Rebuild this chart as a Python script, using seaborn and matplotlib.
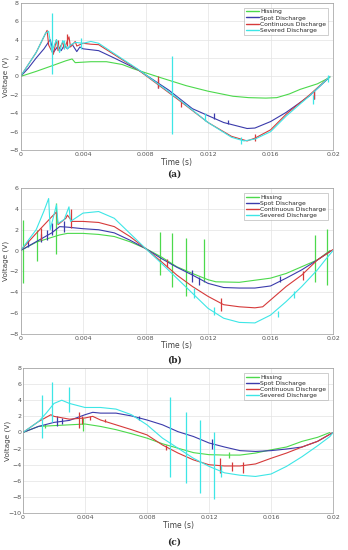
import numpy as np
import pandas as pd
import matplotlib
matplotlib.use("Agg")
import matplotlib.pyplot as plt
import seaborn as sns

sns.set_style("whitegrid")
plt.rcParams['font.family'] = ['DejaVu Sans']

LABELS = ['Hissing', 'Spot Discharge', 'Continuous Discharge', 'Severed Discharge']
COLORS = ['#4cd94c', '#3b3bab', '#d63a3a', '#3de6e6']

# ---------------- panel (a) ----------------
A_HISS_T = [0, 0.001, 0.002, 0.0029, 0.0033, 0.0035, 0.0045, 0.0055, 0.0065, 0.0072, 0.008, 0.009,
            0.0106, 0.012, 0.0136, 0.0146, 0.0157, 0.0164, 0.0172, 0.0179, 0.019, 0.0198]
A_HISS_V = [0, 0.55, 1.15, 1.7, 1.9, 1.5, 1.6, 1.6, 1.3, 0.85, 0.4, -0.15,
            -1.0, -1.6, -2.15, -2.3, -2.35, -2.3, -1.9, -1.4, -0.8, -0.1]
A_SPOT_T = [0, 0.0005, 0.001, 0.0015, 0.0019, 0.0021, 0.0024, 0.0026, 0.0028, 0.003, 0.0033, 0.0036,
            0.0038, 0.004, 0.005, 0.006, 0.0075, 0.0095, 0.011, 0.013, 0.0145, 0.015, 0.016, 0.017,
            0.0185, 0.0197]
A_SPOT_V = [0, 0.9, 2.0, 3.0, 4.0, 2.6, 3.3, 2.8, 3.4, 3.0, 3.5, 2.7,
            3.2, 3.0, 2.8, 2.0, 0.75, -1.5, -3.5, -5.0, -5.65, -5.6, -4.9, -3.9,
            -2.1, -0.2]
A_CONT_T = [0, 0.0005, 0.001, 0.0017, 0.0018, 0.0021, 0.0023, 0.0024, 0.0027, 0.0028, 0.0031, 0.0032,
            0.0035, 0.0036, 0.004, 0.0045, 0.005, 0.0075, 0.01, 0.012, 0.0135, 0.0145, 0.015, 0.016,
            0.017, 0.0185, 0.0198]
A_CONT_V = [0, 1.3, 2.6, 5.0, 3.4, 2.4, 4.0, 2.8, 3.7, 3.0, 4.3, 3.2,
            3.8, 3.3, 3.6, 3.5, 3.45, 0.75, -2.4, -5.0, -6.5, -7.0, -6.7, -5.8,
            -4.1, -2.0, 0]
A_SEV_T = [0, 0.0005, 0.001, 0.0016, 0.0018, 0.002, 0.0023, 0.0025, 0.0027, 0.003, 0.0032, 0.0035,
           0.004, 0.0045, 0.005, 0.0075, 0.01, 0.012, 0.0135, 0.0143, 0.015, 0.016, 0.017, 0.0185, 0.0198]
A_SEV_V = [0, 1.3, 2.6, 4.7, 4.9, 2.7, 4.0, 2.6, 3.9, 3.0, 3.4, 3.7,
           3.6, 3.8, 3.6, 0.8, -2.3, -5.0, -6.6, -7.0, -6.8, -6.0, -4.3, -2.1, 0]
# spikes: time, low, high
A_SPK_HISS = ([], [], [])
A_SPK_SPOT = ([0.0088, 0.0124, 0.0133, 0.0188], [-1.3, -4.6, -5.2, -2.4], [-0.3, -4.0, -4.7, -1.6])
A_SPK_CONT = ([0.0024, 0.003, 0.0088, 0.0103, 0.015, 0.0188], [3.2, 3.3, -1.2, -3.3, -7.0, -2.4], [4.0, 4.6, 0.0, -2.6, -6.2, -1.5])
A_SPK_SEV = ([0.002, 0.0028, 0.0039, 0.0097, 0.0118, 0.0141, 0.0187, 0.0197],
             [0.3, 3.0, 3.0, -6.2, -4.8, -7.3, -3.0, -0.6], [6.9, 4.0, 4.2, 2.2, -4.0, -6.6, -2.0, 0.2])

# ---------------- panel (b) ----------------
B_HISS_T = [0, 0.001, 0.0025, 0.003, 0.004, 0.005, 0.006, 0.007, 0.008, 0.009, 0.010, 0.011, 0.012,
            0.0125, 0.014, 0.016, 0.017, 0.018, 0.019, 0.0198]
B_HISS_V = [0, 0.8, 1.5, 1.65, 1.65, 1.55, 1.35, 0.85, 0.2, -0.6, -1.55, -2.2, -2.8,
            -3.0, -3.05, -2.65, -2.2, -1.55, -0.9, 0]
B_SPOT_T = [0, 0.001, 0.002, 0.0025, 0.003, 0.004, 0.005, 0.006, 0.007, 0.008, 0.009, 0.010, 0.011,
            0.012, 0.013, 0.014, 0.015, 0.016, 0.017, 0.018, 0.019, 0.0199]
B_SPOT_V = [0, 0.85, 1.7, 2.3, 2.25, 2.1, 2.0, 1.7, 1.0, 0.2, -0.75, -1.6, -2.35,
            -3.15, -3.55, -3.6, -3.6, -3.4, -2.65, -1.85, -0.9, 0]
B_CONT_T = [0, 0.001, 0.002, 0.0023, 0.0024, 0.0029, 0.003, 0.0033, 0.004, 0.005, 0.006, 0.007, 0.008,
            0.009, 0.010, 0.011, 0.012, 0.013, 0.014, 0.015, 0.0155, 0.016, 0.017, 0.018, 0.019, 0.02]
B_CONT_V = [0, 1.65, 3.25, 3.7, 2.5, 3.1, 3.4, 2.8, 2.8, 2.7, 2.3, 1.35, 0.2,
            -1.05, -2.35, -3.45, -4.4, -5.2, -5.4, -5.5, -5.4, -4.75, -3.45, -2.35, -0.9, 0.1]
B_SEV_T = [0, 0.0005, 0.001, 0.0015, 0.0018, 0.0019, 0.0023, 0.0024, 0.0028, 0.0031, 0.0032, 0.004,
           0.005, 0.006, 0.007, 0.008, 0.009, 0.010, 0.011, 0.012, 0.013, 0.014, 0.015, 0.016, 0.017,
           0.018, 0.019, 0.0195, 0.02]
B_SEV_V = [0, 1.0, 2.0, 3.8, 5.0, 2.0, 4.4, 2.6, 3.0, 4.2, 2.8, 3.6,
           3.75, 3.1, 1.65, 0.2, -1.2, -2.65, -4.1, -5.55, -6.5, -6.9, -6.95, -6.2, -4.9,
           -3.45, -1.85, -0.9, 0]
B_SPK_HISS = ([0.00015, 0.00106, 0.00227, 0.0089, 0.0097, 0.01056, 0.01173, 0.01886, 0.0196],
              [-3.15, -1.05, -0.3, -2.35, -3.5, -4.4, -3.0, -3.0, -3.3],
              [2.9, 2.0, 4.55, 1.8, 1.7, 1.2, 1.1, 1.5, 2.1])
B_SPK_SPOT = ([0.0005, 0.0013, 0.0017, 0.002, 0.0028, 0.011, 0.0114, 0.0166],
              [0.3, 0.8, 1.0, 1.5, 1.8, -3.0, -3.3, -3.0], [1.0, 1.6, 2.0, 2.6, 2.8, -1.9, -2.5, -2.4])
B_SPK_CONT = ([0.0013, 0.0032, 0.0094, 0.0128, 0.0181], [1.0, 2.2, -1.6, -5.8, -2.8], [2.2, 4.0, -0.8, -4.6, -2.0])
B_SPK_SEV = ([0.0111, 0.0124, 0.0165, 0.0175], [-4.6, -6.2, -6.4, -4.6], [-3.6, -5.4, -5.8, -3.9])

# ---------------- panel (c) ----------------
C_HISS_T = [0, 0.001, 0.002, 0.003, 0.004, 0.005, 0.006, 0.007, 0.008, 0.009, 0.010, 0.011, 0.012,
            0.013, 0.014, 0.015, 0.016, 0.017, 0.018, 0.019, 0.0198]
C_HISS_V = [0, 0.75, 0.85, 0.95, 1.05, 0.75, 0.35, -0.15, -0.7, -1.4, -1.95, -2.5, -2.75,
            -2.8, -2.8, -2.55, -2.15, -1.8, -1.1, -0.6, 0]
C_SPOT_T = [0, 0.001, 0.002, 0.003, 0.004, 0.0045, 0.005, 0.006, 0.007, 0.008, 0.009, 0.010, 0.011,
            0.012, 0.013, 0.014, 0.015, 0.016, 0.017, 0.018, 0.019, 0.02]
C_SPOT_V = [0, 0.75, 1.25, 1.5, 2.2, 2.5, 2.4, 2.4, 2.05, 1.55, 0.95, 0.1, -0.5,
            -1.3, -1.8, -2.25, -2.35, -2.25, -2.05, -1.8, -1.1, 0]
C_CONT_T = [0, 0.001, 0.0018, 0.002, 0.003, 0.004, 0.0045, 0.005, 0.006, 0.007, 0.008, 0.009, 0.010,
            0.011, 0.012, 0.013, 0.014, 0.015, 0.016, 0.017, 0.018, 0.019, 0.02]
C_CONT_V = [0, 1.35, 2.2, 2.0, 1.65, 1.8, 2.0, 1.55, 0.95, 0.35, -0.3, -1.55, -2.55,
            -3.4, -4.0, -4.15, -4.15, -3.9, -3.2, -2.55, -1.8, -1.1, 0]
C_SEV_T = [0, 0.001, 0.0015, 0.002, 0.0025, 0.003, 0.004, 0.005, 0.006, 0.007, 0.008, 0.009, 0.010,
           0.011, 0.012, 0.013, 0.014, 0.015, 0.016, 0.017, 0.018, 0.019, 0.0198, 0.02]
C_SEV_V = [0, 1.35, 2.4, 3.6, 4.0, 3.6, 3.1, 3.1, 2.9, 2.2, 0.95, -0.7, -1.95,
           -3.2, -4.2, -5.0, -5.3, -5.45, -5.15, -4.2, -3.0, -1.65, -0.5, 0]
C_SPK_HISS = ([0.0014, 0.0039, 0.0133], [0.5, 0.2, -3.2], [1.0, 1.8, -2.4])
C_SPK_SPOT = ([0.0022, 0.0025, 0.0075, 0.0122], [0.8, 1.0, 1.6, -2.0], [2.0, 1.8, 2.1, -0.8])
C_SPK_CONT = ([0.0036, 0.0038, 0.0043, 0.0053, 0.0092, 0.0127, 0.0135, 0.0142],
              [0.5, 1.0, 1.6, 1.3, -2.2, -5.0, -4.8, -5.0], [2.6, 2.1, 2.1, 1.7, -1.6, -3.2, -3.6, -3.6])
C_SPK_SEV = ([0.0012, 0.0019, 0.003, 0.0095, 0.0105, 0.0114, 0.0123, 0.0128],
             [-0.7, 1.3, 2.5, -5.5, -6.3, -7.5, -8.2, -5.5], [4.7, 6.3, 5.6, 4.4, 2.6, 1.5, 0.0, -4.0])

PANELS = [
    dict(name='(a)', ylim=(-8, 8),
         series=[(A_HISS_T, A_HISS_V), (A_SPOT_T, A_SPOT_V), (A_CONT_T, A_CONT_V), (A_SEV_T, A_SEV_V)],
         spikes=[A_SPK_HISS, A_SPK_SPOT, A_SPK_CONT, A_SPK_SEV],
         pos=[0.059, 0.727, 0.898, 0.268], lab_y=1 - 174 / 550, ylab_x=-0.036),
    dict(name='(b)', ylim=(-8, 6),
         series=[(B_HISS_T, B_HISS_V), (B_SPOT_T, B_SPOT_V), (B_CONT_T, B_CONT_V), (B_SEV_T, B_SEV_V)],
         spikes=[B_SPK_HISS, B_SPK_SPOT, B_SPK_CONT, B_SPK_SEV],
         pos=[0.059, 0.393, 0.898, 0.265], lab_y=1 - 360 / 550, ylab_x=-0.036),
    dict(name='(c)', ylim=(-10, 8),
         series=[(C_HISS_T, C_HISS_V), (C_SPOT_T, C_SPOT_V), (C_CONT_T, C_CONT_V), (C_SEV_T, C_SEV_V)],
         spikes=[C_SPK_HISS, C_SPK_SPOT, C_SPK_CONT, C_SPK_SEV],
         pos=[0.066, 0.067, 0.891, 0.264], lab_y=1 - 542 / 550, ylab_x=-0.04),
]

XTICKS = [0, 0.004, 0.008, 0.012, 0.016, 0.02]
XTICKLABELS = ['0', '0.004', '0.008', '0.012', '0.016', '0.02']

fig = plt.figure(figsize=(3.48, 5.5), dpi=100)

for p in PANELS:
    ax = fig.add_axes(p['pos'])
    for (t, v), (st, lo, hi), lab, col in zip(p['series'], p['spikes'], LABELS, COLORS):
        df = pd.DataFrame({'t': t, 'v': v})
        sns.lineplot(data=df, x='t', y='v', ax=ax, color=col, lw=0.8, label=lab,
                     estimator=None, sort=False)
        if len(st):
            ax.vlines(st, lo, hi, color=col, lw=0.9)
    ax.set_xlim(0, 0.02)
    ax.set_ylim(*p['ylim'])
    ax.set_xticks(XTICKS)
    ax.set_xticklabels(XTICKLABELS)
    ax.set_yticks(np.arange(p['ylim'][0], p['ylim'][1] + 1, 2))
    ax.tick_params(labelsize=4.5, colors='#555555', length=0, pad=1.2)
    ax.grid(True, color='#e3e3e3', lw=0.5)
    for s in ax.spines.values():
        s.set_visible(True)
        s.set_color('#9a9a9a')
        s.set_linewidth(0.5)
    ax.set_xlabel('Time (s)', fontsize=5.5, color='#444444', labelpad=0.5)
    ax.set_ylabel('Voltage (V)', fontsize=5.2, color='#444444')
    ax.yaxis.set_label_coords(p['ylab_x'], 0.5)
    leg = ax.legend(loc='upper right', fontsize=4.3, frameon=True, fancybox=False,
                    handlelength=2.2, handletextpad=0.3, borderpad=0.3, labelspacing=0.15,
                    borderaxespad=0.8)
    leg.get_frame().set_edgecolor('#aaaaaa')
    leg.get_frame().set_linewidth(0.5)
    for line in leg.get_lines():
        line.set_linewidth(1.0)
    fig.text(0.5, p['lab_y'], p['name'], ha='center', va='center', fontsize=6.5,
             family='DejaVu Serif', fontweight='bold')

fig.savefig('out.png', dpi=100)
